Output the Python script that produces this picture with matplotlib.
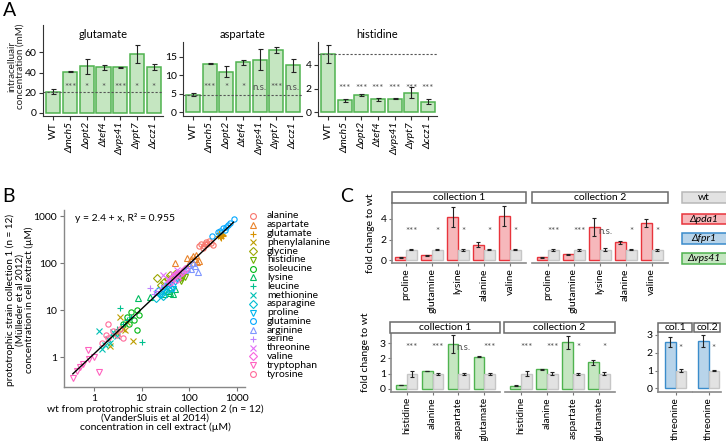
import numpy as np
import matplotlib
matplotlib.use("Agg")
import matplotlib.pyplot as plt
from matplotlib.patches import Rectangle

plt.rcParams['font.family'] = ['Lato', 'DejaVu Sans']
plt.rcParams['axes.linewidth'] = 0.8

# ---------------- panel A data ----------------
strains = ['WT', 'Δmch5', 'Δopt2', 'Δtef4', 'Δvps41', 'Δypt7', 'Δccz1']
glu_mean = [21, 41, 46, 45, 45, 58, 45]
glu_err = [2.7, 0.8, 7.5, 2.5, 0.5, 9, 3]
glu_sig = ['', '***', '*', '*', '***', '*', '*']
asp_mean = [4.8, 13.2, 11.0, 13.5, 14.3, 17.0, 12.7]
asp_err = [0.5, 0.2, 1.5, 0.7, 2.9, 0.8, 1.8]
asp_sig = ['', '***', '*', '*', 'n.s.', '***', 'n.s.']
his_mean = [4.9, 1.0, 1.45, 1.1, 1.15, 1.65, 0.9]
his_err = [0.75, 0.15, 0.1, 0.15, 0.04, 0.45, 0.2]
his_sig = ['', '***', '***', '***', '***', '***', '***']

# ---------------- panel B data ----------------
amino = ['alanine', 'aspartate', 'glutamate', 'phenylalanine', 'glycine',
         'histidine', 'isoleucine', 'lysine', 'leucine', 'methionine',
         'asparagine', 'proline', 'glutamine', 'arginine', 'serine',
         'threonine', 'valine', 'tryptophan', 'tyrosine']
# collection 2 (x) and collection 1 (y), uM
b_x = [
    [160, 190, 210, 240, 260, 290, 310, 200, 180, 230],
    [90, 110, 120, 140, 160, 50, 100, 130, 145],
    [400, 450, 480, 500, 420, 460, 520, 440],
    [3.5, 6.6, 2.2, 4.0, 5.0, 4.5, 3.0],
    [21, 30, 35, 40, 45, 25, 50],
    [60, 65, 70, 75, 55, 80, 68],
    [5, 6, 8, 9, 4, 8, 7, 5.5],
    [40, 45, 8.4, 15, 35, 50, 30],
    [3.5, 10, 4, 5, 3, 6, 2.5],
    [1.7, 2.0, 2.5, 1.3, 2.2, 3.0, 1.5],
    [20, 25, 30, 35, 40, 22, 28],
    [30, 40, 50, 45, 35, 55, 25],
    [300, 400, 500, 600, 700, 850, 450, 550, 650],
    [90, 100, 110, 150, 130, 80, 120],
    [15, 20, 25, 30, 35, 40, 18],
    [28, 35, 45, 50, 60, 40, 55],
    [40, 50, 60, 70, 45, 80, 55],
    [0.36, 0.74, 1.3, 0.5, 0.6, 0.8, 1.0, 0.45],
    [1.5, 2.0, 2.5, 3.0, 2.0, 3.5, 4.0, 1.8],
]
b_y = [
    [230, 210, 260, 250, 290, 270, 240, 230, 250, 280],
    [130, 120, 140, 150, 110, 100, 100, 125, 105],
    [380, 360, 420, 400, 430, 350, 380, 400],
    [7.0, 2.2, 1.7, 4.0, 5.5, 3.8, 3.2],
    [48, 40, 45, 55, 50, 35, 60],
    [50, 45, 48, 52, 55, 50, 42],
    [7, 9, 10, 8, 5, 3.7, 6, 5],
    [23, 22, 18, 19, 25, 28, 22],
    [11, 2.1, 5, 6, 4, 7, 3],
    [1.8, 2.4, 3.4, 3.5, 2.0, 2.8, 1.5],
    [18, 22, 25, 28, 30, 25, 20],
    [30, 35, 40, 28, 33, 45, 22],
    [380, 450, 550, 600, 700, 850, 480, 500, 650],
    [80, 90, 75, 65, 85, 70, 100],
    [29, 25, 30, 35, 40, 45, 22],
    [55, 45, 60, 50, 65, 40, 70],
    [40, 55, 60, 65, 50, 75, 45],
    [0.35, 1.4, 0.48, 0.6, 0.7, 0.9, 1.0, 0.5],
    [2.0, 2.5, 3.5, 3.0, 5.0, 4.0, 2.5, 3.0],
]
b_shapes = ['o', '^', '+', 'x', 'D', 'v'] * 4

# ---------------- panel C data ----------------
c_top_aa = ['proline', 'glutamine', 'lysine', 'alanine', 'valine']
pda1_c1 = [0.25, 0.45, 4.2, 1.5, 4.3]
pda1_c1_err = [0.05, 0.08, 1.0, 0.22, 1.0]
wt_top_c1_err = [0.04, 0.04, 0.12, 0.05, 0.04]
sig_top_c1 = ['***', '*', '*', '*', '*']
pda1_c2 = [0.25, 0.55, 3.2, 1.75, 3.6]
pda1_c2_err = [0.03, 0.04, 0.9, 0.15, 0.42]
wt_top_c2_err = [0.1, 0.1, 0.15, 0.05, 0.1]
sig_top_c2 = ['***', '***', 'n.s.', '*', '*']

c_bot_aa = ['histidine', 'alanine', 'aspartate', 'glutamate']
vps41_c1 = [0.25, 1.17, 2.95, 2.12]
vps41_c1_err = [0.02, 0.02, 0.6, 0.02]
wt_bot_c1_err = [0.2, 0.07, 0.07, 0.07]
sig_bot_c1 = ['***', '***', 'n.s.', '***']
vps41_c2 = [0.22, 1.3, 3.05, 1.74]
vps41_c2_err = [0.03, 0.03, 0.45, 0.14]
wt_bot_c2_err = [0.15, 0.08, 0.07, 0.08]
sig_bot_c2 = ['***', '***', '*', '*']

thr_aa = ['threonine']
fpr1_col1 = [2.6]
fpr1_col1_err = [0.3]
wt_thr1_err = [0.07]
fpr1_col2 = [2.65]
fpr1_col2_err = [0.35]
wt_thr2_err = [0.03]
sig_thr = ['*']

legend_c = ['wt', 'Δpda1', 'Δfpr1', 'Δvps41']

# ---------------- colours ----------------
GREEN_F, GREEN_E = '#c5e6c1', '#4fb34f'
RED_F, RED_E = '#f6b8bb', '#e8343c'
BLUE_F, BLUE_E = '#b8d4ea', '#3a8ccb'
GREY_F, GREY_E = '#e2e2e2', '#c6c6c6'
STAR = '#505050'


def hue_pal(n, c=100.0, l=65.0):
    # ggplot2 default hue palette (polar LUV -> sRGB)
    hues = np.linspace(15, 375, n + 1)[:-1]
    xn, yn, zn = 95.047, 100.0, 108.883
    un = 4 * xn / (xn + 15 * yn + 3 * zn)
    vn = 9 * yn / (xn + 15 * yn + 3 * zn)
    m = np.array([[3.2406, -1.5372, -0.4986],
                  [-0.9689, 1.8758, 0.0415],
                  [0.0557, -0.2040, 1.0570]])
    out = []
    for h in hues:
        u = c * np.cos(np.radians(h))
        v = c * np.sin(np.radians(h))
        Y = yn * ((l + 16) / 116) ** 3
        up = u / (13 * l) + un
        vp = v / (13 * l) + vn
        X = Y * 9 * up / (4 * vp)
        Z = Y * (12 - 3 * up - 20 * vp) / (4 * vp)
        rgb = m @ (np.array([X, Y, Z]) / 100)
        rgb = np.where(rgb > 0.0031308, 1.055 * np.abs(rgb) ** (1 / 2.4) - 0.055, 12.92 * rgb)
        out.append(tuple(np.clip(rgb, 0, 1)))
    return out


W, H = 726, 441
fig = plt.figure(figsize=(W / 100, H / 100), dpi=100)


def px_axes(x0, y0, x1, y1):
    return fig.add_axes([x0 / W, 1 - y1 / H, (x1 - x0) / W, (y1 - y0) / H])


def fx(x):
    return x / W


def fy(y):
    return 1 - y / H


# ================= panel A =================
fig.text(fx(3), fy(2), 'A', fontsize=14, va='top', ha='left')
fig.text(fx(16), fy(66), 'intracelluair\nconcentration (mM)', rotation=90,
         fontsize=7.1, ha='center', va='center', linespacing=1.0, color='#222')

panels_a = [
    ('glutamate', glu_mean, glu_err, glu_sig, (43, 25, 163, 116), (-3, 87), [0, 20, 40, 60], 25),
    ('aspartate', asp_mean, asp_err, asp_sig, (183, 42, 302, 116), (-1, 19.05), [0, 5, 10, 15], 6.6),
    ('histidine', his_mean, his_err, his_sig, (318, 42, 437, 116), (-0.31, 5.94), [0, 2, 4], 2.0),
]
for title, mean, err, sig, box, ylim, yt, ystar in panels_a:
    ax = px_axes(*box)
    x = np.arange(len(strains))
    ax.bar(x, mean, width=0.84, color=GREEN_F, edgecolor=GREEN_E, linewidth=1.1)
    ax.errorbar(x, mean, yerr=err, fmt='none', ecolor='#222', elinewidth=0.8,
                capsize=1.8, capthick=0.8)
    ax.axhline(mean[0], color='#555', linestyle=(0, (2, 1.6)), linewidth=0.8)
    for xi, s in zip(x, sig):
        if s:
            ax.text(xi, ystar, s, ha='center', va='center', fontsize=7, color=STAR)
    ax.set_xlim(-0.62, 6.56)
    ax.set_ylim(*ylim)
    ax.set_yticks(yt)
    ax.set_xticks(x)
    ax.tick_params(labelsize=7.5, length=3, width=0.8, color='#333', pad=1.5)
    labs = ax.set_xticklabels(strains, rotation=90, fontsize=7.5)
    for lab in labs[1:]:
        lab.set_style('italic')
    for s in ['top', 'right']:
        ax.spines[s].set_visible(False)
    for s in ['left', 'bottom']:
        ax.spines[s].set_color('#333')
    fig.text(fx((box[0] + box[2]) / 2), fy(35), title, fontsize=8, ha='center', va='center')

# ================= panel B =================
fig.text(fx(2), fy(188), 'B', fontsize=14, va='top', ha='left')
axb = px_axes(64, 210, 245, 387)
cols = hue_pal(len(amino))
all_x, all_y = [], []
for i, name in enumerate(amino):
    mk = b_shapes[i]
    ms = 4.2 if mk in ('+', 'x') else 3.8
    axb.plot(b_x[i], b_y[i], linestyle='none', marker=mk, markersize=ms,
             markerfacecolor='none', markeredgecolor=cols[i], markeredgewidth=0.8)
    all_x += b_x[i]
    all_y += b_y[i]
lx, ly = np.log10(all_x), np.log10(all_y)
slope, icpt = np.polyfit(lx, ly, 1)
xs = np.array([lx.min(), lx.max()])
axb.plot(10 ** xs, 10 ** (icpt + slope * xs), color='black', linewidth=1.0)
axb.set_xscale('log')
axb.set_yscale('log')
axb.set_xlim(0.235, 1480)
axb.set_ylim(0.23, 1350)
axb.set_xticks([1, 10, 100, 1000])
axb.set_xticklabels(['1', '10', '100', '1000'])
axb.set_yticks([1, 10, 100, 1000])
axb.set_yticklabels(['1', '10', '100', '1000'])
axb.minorticks_off()
axb.tick_params(labelsize=7.5, length=3, width=0.8, color='#777', pad=2)
for s in ['top', 'right']:
    axb.spines[s].set_visible(False)
for s in ['left', 'bottom']:
    axb.spines[s].set_color('#888')
    axb.spines[s].set_linewidth(1.0)
axb.text(0.06, 0.955, 'y = 2.4 + x, R² = 0.955', transform=axb.transAxes,
         fontsize=7.5, ha='left', va='center')
fig.text(fx(20), fy(300),
         'prototrophic strain collection 1 (n = 12)\n(Mülleder et al 2012)\nconcentration in cell extract (µM)',
         rotation=90, fontsize=7.2, ha='center', va='center', linespacing=1.0)
fig.text(fx(155), fy(418),
         'wt from prototrophic strain collection 2 (n = 12)\n(VanderSluis et al 2014)\nconcentration in cell extract (µM)',
         fontsize=7.5, ha='center', va='center', linespacing=1.0)

# overlay for legends and strips (pixel coordinates)
ov = fig.add_axes([0, 0, 1, 1])
ov.set_xlim(0, W)
ov.set_ylim(H, 0)
ov.axis('off')
ov.set_zorder(5)

for i, name in enumerate(amino):
    yy = 216 + i * 8.78
    mk = b_shapes[i]
    ms = 4.6 if mk in ('+', 'x') else 4.2
    ov.plot([253], [yy], linestyle='none', marker=mk, markersize=ms,
            markerfacecolor='none', markeredgecolor=cols[i], markeredgewidth=0.8)
    ov.text(267, yy, name, fontsize=7.5, ha='left', va='center')

# ================= panel C =================
fig.text(fx(340), fy(188), 'C', fontsize=14, va='top', ha='left')


def strip(x0, y0, x1, y1, label, fs=7.5):
    ov.add_patch(Rectangle((x0, y0), x1 - x0, y1 - y0, facecolor='white',
                           edgecolor='#6a6a6a', linewidth=1.1, clip_on=False))
    ov.text((x0 + x1) / 2, (y0 + y1) / 2 + 0.5, label, fontsize=fs, ha='center', va='center')


def c_panel(box, cats, mut, mut_err, wt_err, sig, fcol, ecol, xlim, ylim, yticks,
            ystar, first, xfs=7.5):
    ax = px_axes(*box)
    x = np.arange(len(cats))
    wt = [1.0] * len(cats)
    ax.bar(x - 0.21, mut, width=0.42, color=fcol, edgecolor=ecol, linewidth=1.0)
    ax.bar(x + 0.21, wt, width=0.42, color=GREY_F, edgecolor=GREY_E, linewidth=1.0)
    ax.errorbar(x - 0.21, mut, yerr=mut_err, fmt='none', ecolor='#222',
                elinewidth=0.8, capsize=1.6, capthick=0.8)
    ax.errorbar(x + 0.21, wt, yerr=wt_err, fmt='none', ecolor='#222',
                elinewidth=0.8, capsize=1.6, capthick=0.8)
    for xi, s in zip(x, sig):
        ax.text(xi + 0.21, ystar, s, fontsize=7, color=STAR, ha='center', va='center')
    ax.set_xlim(*xlim)
    ax.set_ylim(*ylim)
    ax.set_xticks(x)
    ax.set_yticks(yticks)
    ax.tick_params(length=2.5, width=0.8, color='#777', pad=1.2)
    ax.tick_params(axis='y', labelsize=7.5)
    ax.tick_params(axis='x', labelsize=xfs)
    ax.set_xticklabels(cats, rotation=90)
    for s in ['top', 'right']:
        ax.spines[s].set_visible(False)
    ax.spines['bottom'].set_color('#8a8a8a')
    ax.spines['bottom'].set_linewidth(1.2)
    if first:
        ax.spines['left'].set_color('#8a8a8a')
        ax.spines['left'].set_linewidth(1.2)
    else:
        ax.spines['left'].set_visible(False)
        ax.tick_params(axis='y', left=False, labelleft=False)
    ax.set_facecolor('none')
    return ax


# top row: pda1
c_panel((392, 203, 526, 263), c_top_aa, pda1_c1, pda1_c1_err, wt_top_c1_err, sig_top_c1,
        RED_F, RED_E, (-0.54, 4.62), (-0.29, 5.56), [0, 2, 4], 2.8, True)
c_panel((532, 203, 668, 263), c_top_aa, pda1_c2, pda1_c2_err, wt_top_c2_err, sig_top_c2,
        RED_F, RED_E, (-0.6, 4.63), (-0.29, 5.56), [0, 2, 4], 2.8, False)
strip(392, 192, 526, 203, 'collection 1')
strip(532, 192, 668, 203, 'collection 2')

# bottom row: vps41
c_panel((391, 333, 500, 392), c_bot_aa, vps41_c1, vps41_c1_err, wt_bot_c1_err, sig_bot_c1,
        GREEN_F, GREEN_E, (-0.6, 3.6), (-0.2, 3.67), [0, 1, 2, 3], 2.72, True, xfs=7.2)
c_panel((505, 333, 615, 392), c_bot_aa, vps41_c2, vps41_c2_err, wt_bot_c2_err, sig_bot_c2,
        GREEN_F, GREEN_E, (-0.62, 3.62), (-0.2, 3.67), [0, 1, 2, 3], 2.72, False, xfs=7.2)
strip(390, 322, 500, 333, 'collection 1')
strip(504, 322, 615, 333, 'collection 2')

# threonine: fpr1
c_panel((658, 332, 692, 392), thr_aa, fpr1_col1, fpr1_col1_err, wt_thr1_err, sig_thr,
        BLUE_F, BLUE_E, (-0.7, 0.65), (-0.2, 3.16), [0, 1, 2, 3], 2.26, True, xfs=7.2)
c_panel((693, 332, 721, 392), thr_aa, fpr1_col2, fpr1_col2_err, wt_thr2_err, sig_thr,
        BLUE_F, BLUE_E, (-0.62, 0.5), (-0.2, 3.16), [0, 1, 2, 3], 2.26, False, xfs=7.2)
strip(658, 323, 692, 332, 'col.1')
strip(694, 323, 720, 332, 'col.2')

fig.text(fx(370), fy(233), 'fold change to wt', rotation=90, fontsize=7.5,
         ha='center', va='center')
fig.text(fx(366), fy(352), 'fold change to wt', rotation=90, fontsize=7.5,
         ha='center', va='center')

# fill legend for C
leg_f = [GREY_F, RED_F, BLUE_F, GREEN_F]
leg_e = ['#b8b8b8', RED_E, BLUE_E, GREEN_E]
leg_y = [192, 213.5, 233, 253]
for lab, fc, ec, y0 in zip(legend_c, leg_f, leg_e, leg_y):
    ov.add_patch(Rectangle((682, y0), 60, 10.5, facecolor=fc, edgecolor=ec,
                           linewidth=1.1, clip_on=False))
    ov.text(704, y0 + 5.5, lab, fontsize=7.5, ha='center', va='center',
            style='normal' if lab == 'wt' else 'italic')

fig.savefig('out.png', dpi=100)
